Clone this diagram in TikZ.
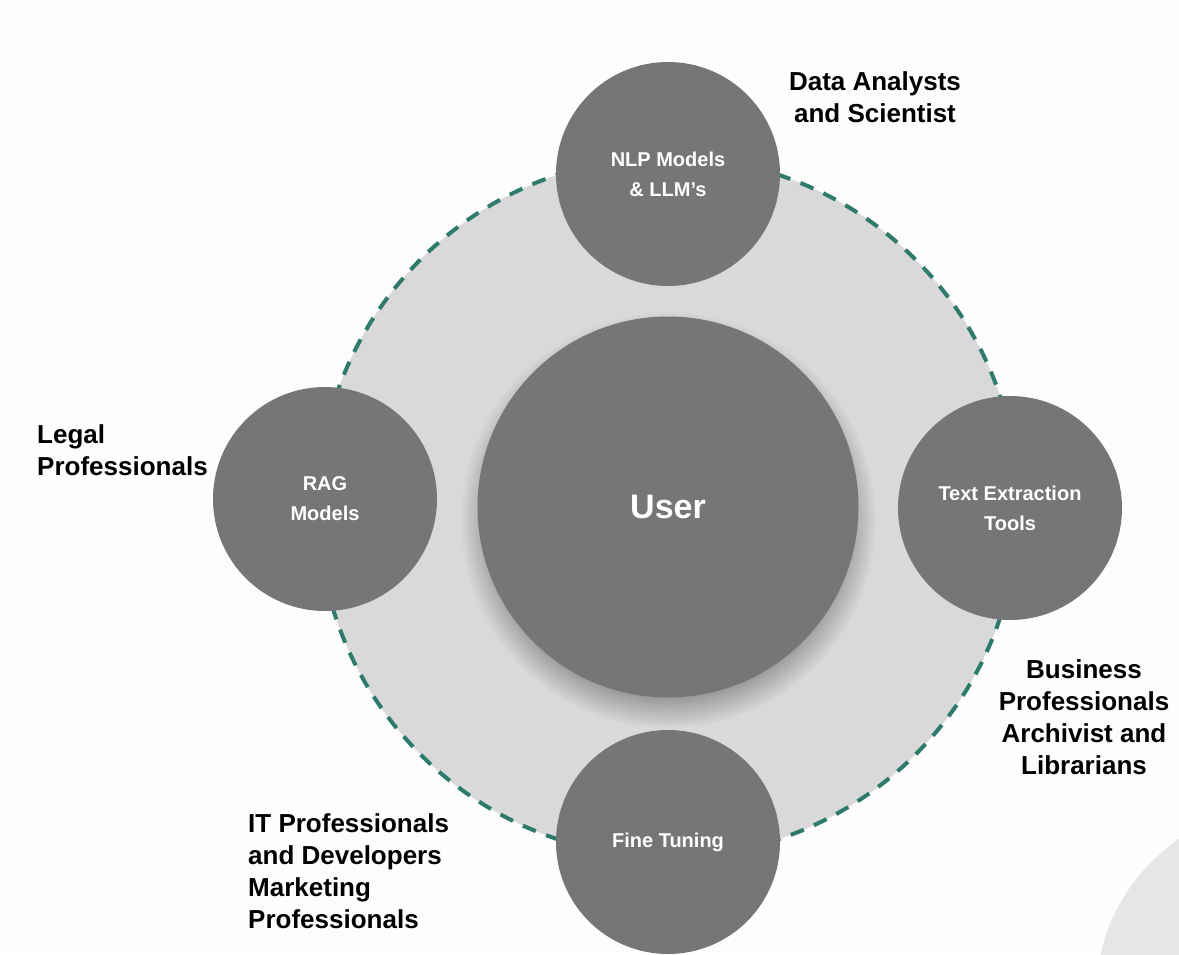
\documentclass[tikz,border=0pt]{standalone}
\usepackage{fontspec}
\setmainfont{Liberation Sans}
\usetikzlibrary{shadows}
\definecolor{ringgray}{HTML}{D9D9D9}
\definecolor{toolgray}{HTML}{767676}
\definecolor{dashteal}{HTML}{2E7B6D}
\definecolor{cornergray}{HTML}{E6E6E6}
\definecolor{pagewhite}{HTML}{FDFDFD}
\tikzset{
  tool/.style={circle, fill=toolgray, minimum size=224pt, inner sep=0pt, align=center, text=white, font=\bfseries\fontsize{20}{30}\selectfont},
  who/.style={inner sep=0pt, font=\bfseries\fontsize{26}{32}\selectfont},
}
\begin{document}
\begin{tikzpicture}[x=1pt,y=-1pt]
\fill[pagewhite] (0,0) rectangle (1179,954);
\useasboundingbox (0,0) rectangle (1179,954);
\begin{scope}
\clip (0,0) rectangle (1179,954);
\fill[cornergray] (1286,996) circle[radius=190pt];
\end{scope}

\coordinate (mid) at (668,507);
\draw[fill=ringgray, draw=dashteal, line width=4pt, dash pattern=on 14pt off 11pt] (mid) circle[radius=350pt];
\node[circle, fill=toolgray, minimum size=381pt, inner sep=0pt, text=white, font=\bfseries\fontsize{34}{40}\selectfont,
  circular drop shadow={shadow xshift=0pt, shadow yshift=-12pt, shadow scale=1.09, opacity=.7}] (user) at (mid) {User};

\node[tool] (nlp) at (668,174) {NLP Models\\\& LLM’s};
\node[tool] (rag) at (325,499) {RAG\\Models};
\node[tool] (tet) at (1010,508) {Text Extraction\\Tools};
\node[tool] (fine) at (668,842) {Fine Tuning};

\node[who, align=center] (dataLbl) at (875,97) {Data Analysts\\and Scientist};
\node[who, align=left, anchor=west] (legalLbl) at (37,450) {Legal\\Professionals};
\node[who, align=center] (bizLbl) at (1084,717) {Business\\Professionals\\Archivist and\\Librarians};
\node[who, align=left, anchor=west] (itLbl) at (248,871) {IT Professionals\\and Developers\\Marketing\\Professionals};
\end{tikzpicture}
\end{document}
